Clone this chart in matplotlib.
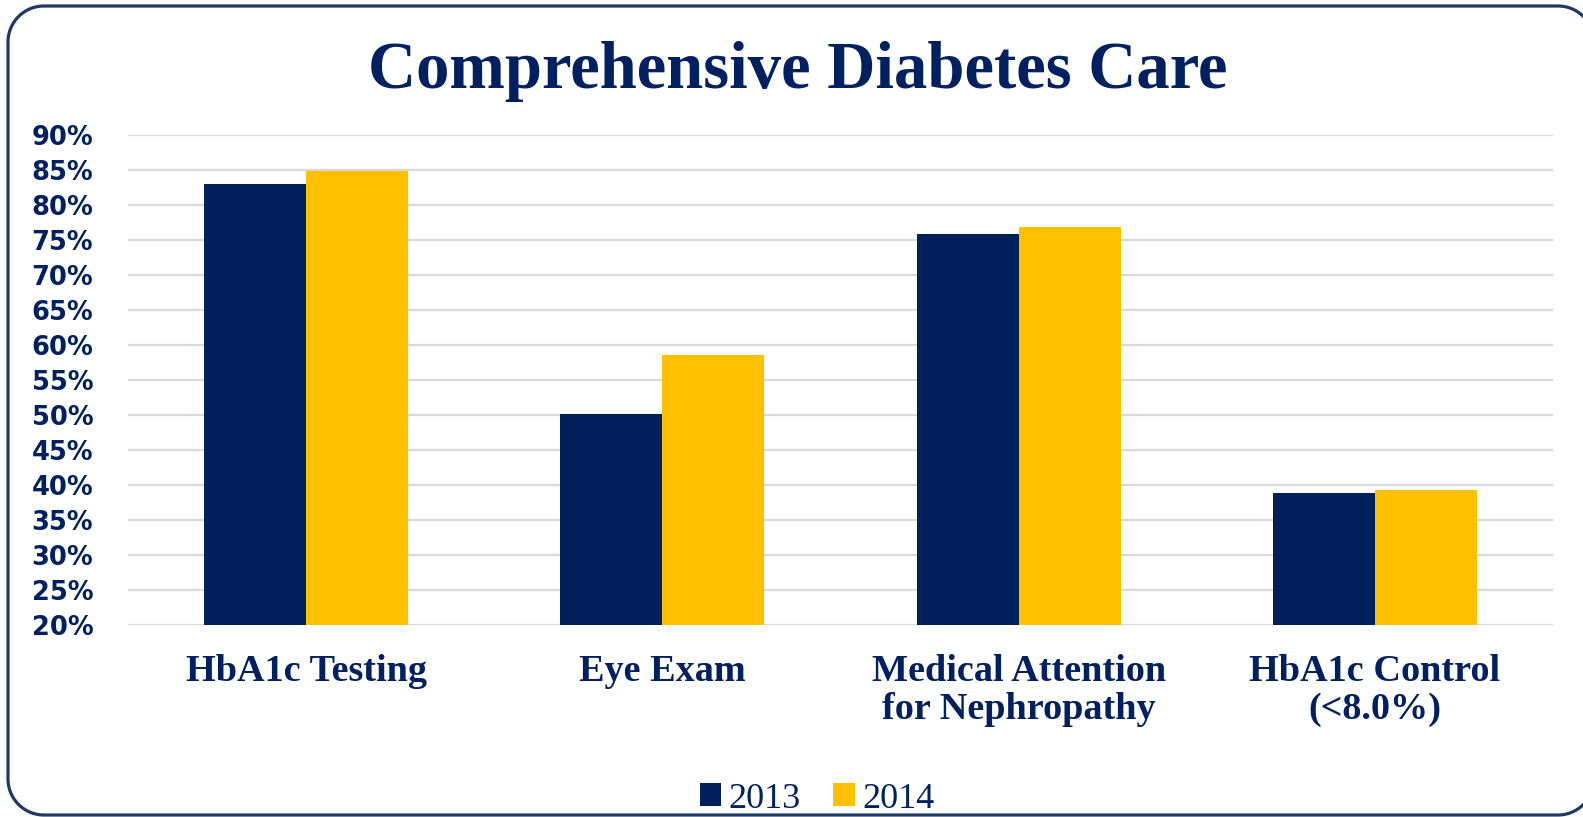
import matplotlib
matplotlib.use("Agg")
import matplotlib.pyplot as plt
import numpy as np
from matplotlib.patches import Polygon

categories = ["HbA1c Testing", "Eye Exam", "Medical Attention\nfor Nephropathy", "HbA1c Control\n(<8.0%)"]
series_names = ["2013", "2014"]
values_2013 = [83.0, 50.2, 75.8, 38.8]
values_2014 = [84.8, 58.6, 76.8, 39.3]
yticks = [20, 25, 30, 35, 40, 45, 50, 55, 60, 65, 70, 75, 80, 85, 90]

NAVY = "#00205B"
GOLD = "#FFC000"
TEXT = "#002060"
GRID = "#D9D9D9"

W, H, DPI = 1583, 817, 100
fig = plt.figure(figsize=(W / DPI, H / DPI), dpi=DPI)
fig.patch.set_facecolor("white")

# decorative rounded frame, drawn in pixel coordinates
bg = fig.add_axes([0, 0, 1, 1], zorder=-1)
bg.set_xlim(0, W)
bg.set_ylim(H, 0)
bg.axis("off")
x0, y0, x1, y1, r = 8, 6, 1594, 815, 36
t = np.linspace(0, np.pi / 2, 40)
px, py = [], []
px += list(x0 + r - r * np.cos(t)); py += list(y0 + r - r * np.sin(t))
px += list(x1 - r + r * np.sin(t)); py += list(y0 + r - r * np.cos(t))
px += list(x1 - r + r * np.cos(t)); py += list(y1 - r + r * np.sin(t))
px += list(x0 + r - r * np.sin(t)); py += list(y1 - r + r * np.cos(t))
frame = Polygon(np.column_stack([px, py]), closed=True, fill=False,
                edgecolor="#1F3864", linewidth=2.3, joinstyle="round", clip_on=False)
bg.add_patch(frame)

ax = fig.add_axes([128 / W, 1 - 625 / H, (1553 - 128) / W, (625 - 135) / H])
ax.patch.set_alpha(0)
x = np.arange(len(categories))
bw = 0.2865
b1 = ax.bar(x - bw / 2, values_2013, width=bw, color=NAVY, label=series_names[0], zorder=3)
b2 = ax.bar(x + bw / 2, values_2014, width=bw, color=GOLD, label=series_names[1], zorder=3)

ax.set_xlim(-0.5, len(categories) - 0.5)
ax.set_ylim(20, 90)
ax.set_yticks(yticks)
ax.set_yticklabels([f"{t}%" for t in yticks], fontfamily="DejaVu Sans", fontweight="bold",
                   fontsize=18.5, color=TEXT)
ax.tick_params(axis="y", length=0, pad=25)
ax.set_xticks(x)
ax.set_xticklabels(categories, fontfamily="Liberation Serif", fontweight="bold",
                   fontsize=27.5, color=TEXT, linespacing=1.1)
ax.tick_params(axis="x", length=0, pad=21)
ax.grid(axis="y", color=GRID, linewidth=1.6, zorder=0)
for s in ax.spines.values():
    s.set_visible(False)

fig.text(798 / W, 1 - 88 / H, "Comprehensive Diabetes Care", ha="center", va="baseline",
         fontfamily="Liberation Serif", fontweight="bold", fontsize=48, color=TEXT)

leg = fig.legend(handles=[b1, b2], labels=series_names, loc="center",
                 bbox_to_anchor=(817 / W, 1 - 799 / H), ncol=2, frameon=False,
                 prop={"family": "Liberation Serif", "size": 26},
                 handlelength=0.6, handleheight=0.6, handletextpad=0.2, columnspacing=0.9,
                 borderaxespad=0, borderpad=0)
for t in leg.get_texts():
    t.set_color(TEXT)

fig.savefig("out.png", dpi=DPI)
